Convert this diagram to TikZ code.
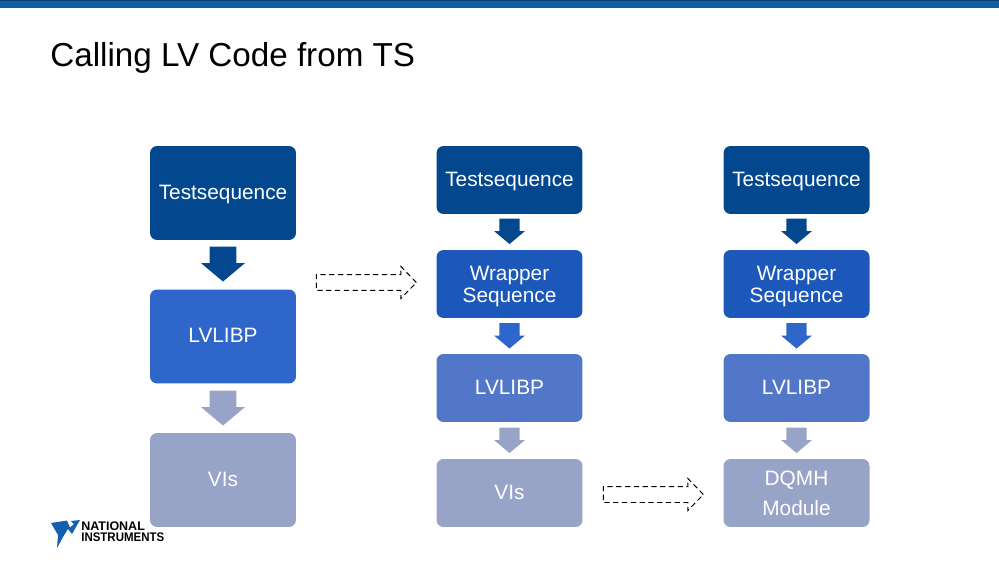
\documentclass[tikz,border=0pt]{standalone}
\usepackage{fontspec}
\setmainfont{Liberation Sans}
\newfontfamily\logocond[FakeStretch=0.92]{Liberation Sans Bold}
\usetikzlibrary{shapes.arrows}

\definecolor{topbar}{HTML}{0F5CA3}
\definecolor{topline}{HTML}{0B3F73}
\definecolor{navy}{HTML}{03478F}
\definecolor{midblue}{HTML}{1C58B9}
\definecolor{brightblue}{HTML}{2F66C9}
\definecolor{softblue}{HTML}{5277C8}
\definecolor{paleblue}{HTML}{98A3C8}
\definecolor{logoblue}{HTML}{1460B0}

\tikzset{
  block/.style={rounded corners=0.14cm,minimum width=2.92cm,inner sep=0pt,text=white,
    align=center,font=\fontsize{11.85}{12.6}\selectfont},
  tall/.style={block,minimum height=1.88cm,text height=7pt,text depth=0pt},
  flat/.style={block,minimum height=1.36cm},
  oneline/.style={flat,text height=7pt,text depth=0pt},
  bigdown/.style={single arrow,shape border rotate=270,inner xsep=0.26cm,inner ysep=0pt,
    minimum width=0.86cm,minimum height=0.70cm,single arrow head extend=0.17cm,
    single arrow tip angle=100,anchor=tip},
  smalldown/.style={single arrow,shape border rotate=270,inner xsep=0.195cm,inner ysep=0pt,
    minimum width=0.60cm,minimum height=0.51cm,single arrow head extend=0.105cm,
    single arrow tip angle=100,anchor=tip},
  stepover/.style={single arrow,draw=black,densely dashed,line width=0.55pt,inner ysep=0.15cm,
    inner xsep=0pt,minimum width=0.62cm,minimum height=2.0cm,single arrow head extend=0.16cm,
    single arrow tip angle=92,anchor=tip},
  logotext/.style={anchor=base west,inner sep=0pt}
}

\begin{document}
\begin{tikzpicture}[x=0.02cm,y=-0.02cm]
\useasboundingbox (0,0) rectangle (999,563);
\fill[topbar] (0,0) rectangle (999,8);
\fill[topline] (0,0) rectangle (999,1);
\node[anchor=base west,inner sep=0pt,font=\fontsize{18.9}{20}\selectfont] (title) at (50,67) {Calling LV Code from TS};

% left column
\node[tall,fill=navy] (seqA) at (223,193) {Testsequence};
\node[tall,fill=brightblue] (libA) at (223,336.5) {LVLIBP};
\node[tall,fill=paleblue] (viA) at (223,480) {VIs};
\node[bigdown,fill=navy] (downA) at (223,282) {};
\node[bigdown,fill=paleblue] (downB) at (223,426) {};

% middle column
\node[oneline,fill=navy] (seqB) at (509.5,180) {Testsequence};
\node[flat,fill=midblue] (wrapB) at (509.5,284) {\rule{0pt}{11pt}Wrapper\\[-0.6pt]Sequence};
\node[oneline,fill=softblue] (libB) at (509.5,388) {LVLIBP};
\node[oneline,fill=paleblue] (viB) at (509.5,493) {VIs};
\node[smalldown,fill=navy] (downC) at (509.5,244.5) {};
\node[smalldown,fill=brightblue] (downD) at (509.5,349) {};
\node[smalldown,fill=paleblue] (downE) at (509.5,453.5) {};

% right column
\node[oneline,fill=navy] (seqC) at (796.5,180) {Testsequence};
\node[flat,fill=midblue] (wrapC) at (796.5,284) {\rule{0pt}{11pt}Wrapper\\[-0.6pt]Sequence};
\node[oneline,fill=softblue] (libC) at (796.5,388) {LVLIBP};
\node[flat,fill=paleblue] (dqmh) at (796.5,493) {DQMH\\[4.5pt]Module};
\node[smalldown,fill=navy] (downF) at (796.5,244.5) {};
\node[smalldown,fill=brightblue] (downG) at (796.5,349) {};
\node[smalldown,fill=paleblue] (downH) at (796.5,453.5) {};

% dashed arrows between the columns
\node[stepover] (moveA) at (417,282.5) {};
\node[stepover] (moveB) at (704,494.5) {};

% logo
\fill[logoblue] (51,523) -- (67,520.5) -- (70,527.5) -- (74,524) -- (71,521) -- (80,520)
  -- (72,534) -- (68,529) -- (63,537) -- (57,548) -- (58,535) -- cycle;
\node[logotext,font=\bfseries\fontsize{7.1}{8}\selectfont] (logoA) at (81,530) {NATIONAL};
\node[logotext,font=\logocond\fontsize{7.1}{8}\selectfont] (logoB) at (81,541) {INSTRUMENTS};
\end{tikzpicture}
\end{document}
